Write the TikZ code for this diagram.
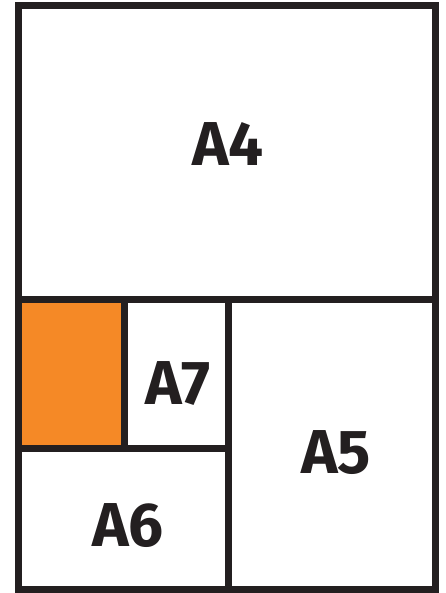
\documentclass[tikz,border=0pt]{standalone}
\usepackage{fontspec}
\setmainfont{Fira Sans}
\definecolor{paperorange}{RGB}{245,137,38}
\definecolor{paperline}{RGB}{35,31,32}
\begin{document}
\begin{tikzpicture}[x=1pt, y=-1pt, line width=7pt, every node/.style={font=\bfseries\fontsize{62}{62}\selectfont, text=paperline, inner sep=0pt}]
				\useasboundingbox (0,0) rectangle (446,593);
				% 1. A8 填色
				\fill[paperorange] (18.5,299.5) rectangle (124,448);
				
				% 2. 纸张分割线
				\draw[paperline] (18.5,5.5) rectangle (435.5,589.5);
				\draw[paperline] (18.5,299.5) -- (435.5,299.5);
				\draw[paperline] (228.5,299.5) -- (228.5,589.5);
				\draw[paperline] (18.5,448) -- (228.5,448);
				\draw[paperline] (124,299.5) -- (124,448);
				
				% 3. 标签
				\node (a4) at (228,144) {A4};
				\node (a5) at (336,453) {A5};
				\node (a6) at (128,526) {A6};
				\node (a7) at (178,384) {A7};
			\end{tikzpicture}
\end{document}
